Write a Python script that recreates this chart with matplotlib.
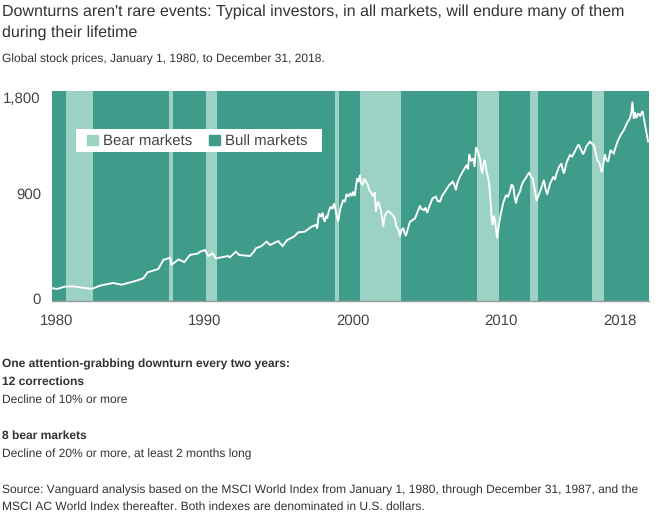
import matplotlib
matplotlib.use('Agg')
import matplotlib.pyplot as plt
from matplotlib.patches import Patch, Rectangle
from matplotlib.transforms import ScaledTranslation

years = [
    1980.0, 1980.04, 1980.35, 1980.85, 1981.4, 1981.94, 1982.6, 1983.14, 1984.0, 1984.55, 1985.5, 1985.97,
    1986.25, 1986.95, 1987.28, 1987.71, 1987.82, 1988.26, 1988.65, 1989.02, 1989.56, 1989.67, 1990.0, 1990.21,
    1990.5, 1990.72, 1991.09, 1991.52, 1991.63, 1992.02, 1992.24, 1992.94, 1993.2, 1993.33, 1993.7, 1994.03,
    1994.25, 1994.79, 1995.07, 1995.38, 1995.81, 1996.1, 1996.53, 1996.97,
    1997.25, 1997.34, 1997.4, 1997.47, 1997.58, 1997.69, 1997.76, 1997.84, 1997.92, 1997.99, 1998.1, 1998.21,
    1998.33, 1998.45, 1998.55, 1998.63, 1998.71, 1998.85, 1999.04, 1999.15, 1999.26, 1999.4, 1999.5, 1999.6,
    1999.69, 1999.8, 1999.88, 1999.95, 2000.05, 2000.13, 2000.22, 2000.31, 2000.42, 2000.53, 2000.64, 2000.74,
    2000.87, 2001.0, 2001.1, 2001.18, 2001.26, 2001.33, 2001.5, 2001.66, 2001.72, 2001.83, 2001.95, 2002.09,
    2002.25, 2002.42, 2002.5, 2002.6, 2002.68, 2002.75, 2002.86, 2002.97, 2003.05, 2003.14, 2003.27, 2003.4,
    2003.55, 2003.73, 2004.06, 2004.15, 2004.32, 2004.42, 2004.53, 2004.7, 2004.88, 2005.1, 2005.2, 2005.36,
    2005.5, 2005.62, 2005.8, 2005.97, 2006.1, 2006.19, 2006.3, 2006.41, 2006.52, 2006.67, 2006.9, 2007.11,
    2007.2, 2007.28, 2007.4, 2007.54, 2007.63, 2007.72, 2007.85, 2007.98, 2008.05, 2008.13, 2008.22, 2008.3,
    2008.4, 2008.52, 2008.6, 2008.67, 2008.74, 2008.8, 2008.88, 2008.96, 2009.04, 2009.11, 2009.2, 2009.33,
    2009.5, 2009.68, 2009.8, 2009.94, 2010.05, 2010.16, 2010.25, 2010.33, 2010.45, 2010.59, 2010.7, 2010.81,
    2011.0, 2011.2, 2011.3, 2011.42, 2011.55, 2011.68, 2011.8, 2011.9, 2012.05, 2012.16, 2012.27, 2012.38,
    2012.55, 2012.77, 2012.88, 2012.99, 2013.15, 2013.31, 2013.4, 2013.47, 2013.65, 2013.86, 2014.0, 2014.12,
    2014.28, 2014.43, 2014.58, 2014.73, 2014.95, 2015.17, 2015.3, 2015.43, 2015.55, 2015.65, 2015.8, 2015.95,
    2016.05, 2016.15, 2016.25, 2016.36, 2016.45, 2016.52, 2016.62, 2016.73, 2016.9, 2017.02, 2017.2, 2017.39,
    2017.6, 2017.78, 2017.88, 2017.95, 2018.04, 2018.12, 2018.2, 2018.32, 2018.45, 2018.61, 2018.76, 2018.91,
    2018.97,
]
prices = [
    108, 105, 100, 120, 122, 111, 100, 128, 151, 136, 170, 191,
    243, 271, 349, 369, 306, 354, 331, 392, 406, 420, 435, 383,
    406, 363, 372, 383, 372, 420, 392, 383, 420, 449, 469, 507,
    478, 512, 469, 521, 550, 587, 593, 636,
    650, 621, 700, 750, 720, 756, 700, 679, 730, 708, 770, 808,
    790, 837, 770, 720, 679, 790, 865, 850, 917, 895, 925, 900,
    937, 900, 990, 1052, 1020, 1081, 1010, 994, 1050, 1023, 1000, 951,
    930, 894, 930, 765, 830, 851, 780, 636, 710, 750, 770, 759,
    740, 707, 640, 621, 600, 550, 610, 621, 580, 555, 620, 679,
    690, 707, 817, 790, 779, 800, 756, 820, 880, 894, 860, 851,
    900, 923, 960, 994, 1010, 1023, 1000, 951, 1020, 1066, 1120, 1167,
    1130, 1261, 1200, 1224, 1150, 1319, 1280, 1224, 1140, 1095, 1180, 1210,
    1120, 1052, 980, 865, 720, 650, 730, 693, 600, 535, 640, 736,
    840, 908, 890, 937, 1000, 980, 890, 837, 900, 937, 990, 1023,
    1060, 1104, 1070, 1052, 960, 857, 900, 937, 990, 1038, 960, 914,
    1000, 1066, 1040, 1095, 1150, 1181, 1120, 1095, 1190, 1253, 1240, 1267,
    1310, 1345, 1300, 1259, 1330, 1368, 1350, 1339, 1270, 1210, 1180, 1104,
    1180, 1259, 1210, 1195, 1250, 1296, 1280, 1267, 1340, 1382, 1430, 1468,
    1530, 1568, 1620, 1712, 1568, 1620, 1570, 1612, 1590, 1632, 1525, 1420,
    1370,
]

bear_start = [1980.9, 1987.68, 1990.05, 1998.48, 2000.15, 2007.78, 2011.26, 2015.31]
bear_end = [1982.7, 1987.91, 1990.78, 1998.78, 2002.81, 2009.2, 2011.75, 2016.08]

x_ticks = [1980, 1990, 2000, 2010, 2018]
y_ticks = [0, 900, 1800]
y_labels = ['0', '900', '1,800']

BULL = '#3F9C8B'
BEAR = '#9BD2C3'
TEXT = '#333333'

plt.rcParams['font.family'] = ['Liberation Sans', 'DejaVu Sans']
plt.rcParams['text.hinting'] = 'no_hinting'
plt.rcParams['text.hinting_factor'] = 1

fig = plt.figure(figsize=(6.58, 5.2), dpi=100)
ax = fig.add_axes([52 / 658, 1 - 300.5 / 520, 596.5 / 658, 209 / 520])
ax.set_facecolor(BULL)

for s, e in zip(bear_start, bear_end):
    ax.axvspan(s, e, color=BEAR, lw=0)
ax.plot(years, prices, color='white', lw=1.35, solid_joinstyle='miter')

ax.set_xlim(1980, 2019)
ax.set_ylim(0, 1800)
ax.set_xticks(x_ticks)
ax.set_xticklabels([str(y) for y in x_ticks])
ax.set_yticks(y_ticks)
ax.set_yticklabels(y_labels)
ax.tick_params(length=0, labelsize=11, labelcolor='#444444', pad=10)
ax.tick_params(axis='y', pad=8)

for side in ['top', 'left', 'right']:
    ax.spines[side].set_visible(False)
ax.spines['bottom'].set_color('#999999')
ax.spines['bottom'].set_linewidth(1)

# the labels sit a bit off their true positions in the original
x_shift = [4.5, 0, -5, -9.5, -13.5]
y_shift = [2.5, 3, -6.5]
for lab, dx in zip(ax.get_xticklabels(), x_shift):
    lab.set_transform(lab.get_transform() + ScaledTranslation(dx / 100, 0, fig.dpi_scale_trans))
for lab, dy in zip(ax.get_yticklabels(), y_shift):
    lab.set_transform(lab.get_transform() + ScaledTranslation(0, dy / 100, fig.dpi_scale_trans))

# white box drawn by hand, the legend frame can't have wider side padding
ax.add_patch(Rectangle((24 / 596.5, 1 - 60.5 / 209), 246 / 596.5, 23 / 209, transform=ax.transAxes,
                       facecolor='white', edgecolor='none', zorder=4))
handles = [Patch(color=BEAR, label='Bear markets'), Patch(color=BULL, label='Bull markets')]
ax.legend(handles=handles, ncol=2, loc='center left', bbox_to_anchor=(35 / 596.5, 1 - 50 / 209),
          frameon=False, fontsize=11, handlelength=0.7, handleheight=0.7, handletextpad=0.34,
          columnspacing=1.1, borderpad=0, borderaxespad=0, labelcolor='#444444')

fig.text(1.5 / 658, 1 - 12 / 520, "Downturns aren't rare events: Typical investors, in all markets, will endure many of them",
         fontsize=11.4, color=TEXT, va='center')
fig.text(1.5 / 658, 1 - 32.5 / 520, 'during their lifetime', fontsize=11.4, color=TEXT, va='center')
fig.text(1.5 / 658, 1 - 59 / 520, 'Global stock prices, January 1, 1980, to December 31, 2018.', fontsize=8.55, color=TEXT, va='center')

notes = [
    (364, 'One attention-grabbing downturn every two years:', 'bold'),
    (382, '12 corrections', 'bold'),
    (400, 'Decline of 10% or more', 'normal'),
    (436, '8 bear markets', 'bold'),
    (454, 'Decline of 20% or more, at least 2 months long', 'normal'),
    (490, 'Source: Vanguard analysis based on the MSCI World Index from January 1, 1980, through December 31, 1987, and the', 'normal'),
    (507, 'MSCI AC World Index thereafter. Both indexes are denominated in U.S. dollars.', 'normal'),
]
for y, txt, weight in notes:
    fig.text(1.5 / 658, 1 - y / 520, txt, fontsize=8.55, color=TEXT, va='center', fontweight=weight)

fig.savefig('out.png', dpi=100)
